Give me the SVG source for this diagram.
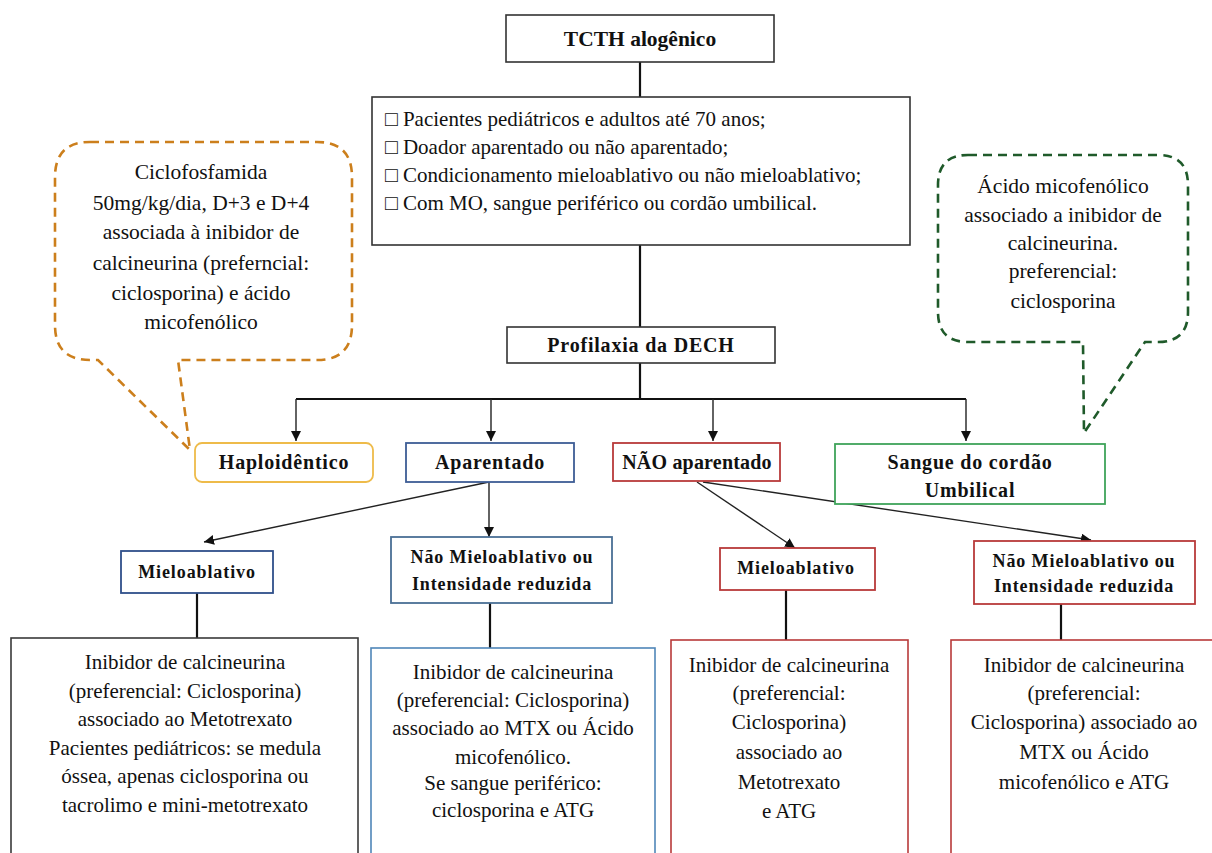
<svg xmlns="http://www.w3.org/2000/svg" width="1212" height="853" viewBox="0 0 1212 853">
  <defs>
    <marker id="arrow" viewBox="0 0 10 10" refX="10" refY="5" markerWidth="10" markerHeight="10" markerUnits="userSpaceOnUse" orient="auto">
      <path d="M0,0 L10,5 L0,10 Z" fill="#111"/>
    </marker>
    <style>
      text { font-family: "Liberation Serif", "Times New Roman", serif; fill: #111; }
      .box { fill: #fff; stroke: #333; stroke-width: 1.6; }
      .b { font-weight: bold; }
      .t20 { font-size: 21px; }
      .t21 { font-size: 21px; }
      .t22 { font-size: 21.5px; }
      .lbl { font-size: 20px; font-weight: bold; letter-spacing: 0.8px; }
      .sm { font-size: 18px; font-weight: bold; letter-spacing: 0.9px; }
      .c { text-anchor: middle; }
      .trunk { stroke: #111; stroke-width: 2.2; fill: none; }
      .thin { stroke: #222; stroke-width: 1.4; fill: none; }
      .callout { fill: #fff; stroke-width: 2.6; stroke-dasharray: 9 6; }
    </style>
  </defs>

  <!-- connectors -->
  <g id="connectors">
    <line class="trunk" x1="640" y1="62" x2="640" y2="97"/>
    <line class="trunk" x1="640" y1="245" x2="640" y2="327"/>
    <line class="trunk" x1="640" y1="363" x2="640" y2="399"/>
    <line class="trunk" x1="296" y1="399" x2="966" y2="399"/>
    <line class="thin" x1="296" y1="399" x2="296" y2="441" marker-end="url(#arrow)"/>
    <line class="thin" x1="491" y1="399" x2="491" y2="441" marker-end="url(#arrow)"/>
    <line class="thin" x1="713" y1="399" x2="713" y2="441" marker-end="url(#arrow)"/>
    <line class="thin" x1="966" y1="399" x2="966" y2="441" marker-end="url(#arrow)"/>
    <line class="thin" x1="489" y1="482" x2="204" y2="542" marker-end="url(#arrow)"/>
    <line class="thin" x1="489" y1="482" x2="489" y2="537" marker-end="url(#arrow)"/>
    <line class="thin" x1="697" y1="482" x2="795" y2="548" marker-end="url(#arrow)"/>
    <line class="thin" x1="703" y1="482" x2="1091" y2="540" marker-end="url(#arrow)"/>
    <line class="trunk" x1="197" y1="593" x2="197" y2="638"/>
    <line class="trunk" x1="490" y1="603" x2="490" y2="648"/>
    <line class="trunk" x1="786" y1="590" x2="786" y2="640"/>
    <line class="trunk" x1="1061" y1="604" x2="1061" y2="640"/>
  </g>

  <!-- speech callouts -->
  <g id="callout-haplo">
    <path class="callout" stroke="#cc7f1c" d="M90,142 H317 Q352,142 352,177 V325 Q352,360 317,360 H178 L190,450 L98,360 H90 Q55,360 55,325 V177 Q55,142 90,142 Z"/>
    <text class="t22 c" x="201" y="179">Ciclofosfamida</text>
    <text class="t22 c" x="201" y="210">50mg/kg/dia, D+3 e D+4</text>
    <text class="t22 c" x="201" y="239">associada à inibidor de</text>
    <text class="t22 c" x="201" y="270">calcineurina (preferncial:</text>
    <text class="t22 c" x="201" y="300">ciclosporina) e ácido</text>
    <text class="t22 c" x="201" y="329">micofenólico</text>
  </g>

  <g id="callout-cordao">
    <path class="callout" stroke="#1f5a2a" d="M968,155 H1158 Q1188,155 1188,185 V312 Q1188,342 1158,342 H1145 L1084,433 L1083,342 H968 Q938,342 938,312 V185 Q938,155 968,155 Z"/>
    <text class="t22 c" x="1063" y="193">Ácido micofenólico</text>
    <text class="t22 c" x="1063" y="222">associado a inibidor de</text>
    <text class="t22 c" x="1063" y="250">calcineurina.</text>
    <text class="t22 c" x="1063" y="278">preferencial:</text>
    <text class="t22 c" x="1063" y="308">ciclosporina</text>
  </g>

  <!-- top of the tree -->
  <g id="tcth">
    <rect class="box" x="506" y="15" width="268" height="47"/>
    <text class="b c" x="640" y="46" font-size="21.5">TCTH alogênico</text>
  </g>

  <g id="criterios">
    <rect class="box" x="372" y="97" width="538" height="148"/>
    <text class="t20" x="385" y="126">□ Pacientes pediátricos e adultos até 70 anos;</text>
    <text class="t20" x="385" y="154">□ Doador aparentado ou não aparentado;</text>
    <text class="t20" x="385" y="182">□ Condicionamento mieloablativo  ou não mieloablativo;</text>
    <text class="t20" x="385" y="210">□ Com MO, sangue periférico ou cordão umbilical.</text>
  </g>

  <g id="profilaxia">
    <rect class="box" x="507" y="327" width="268" height="36"/>
    <text class="lbl c" x="641" y="352">Profilaxia da DECH</text>
  </g>

  <!-- donor types -->
  <g id="haploidentico">
    <rect x="195" y="443" width="178" height="39" rx="7" fill="#fff" stroke="#eebb4a" stroke-width="1.8"/>
    <text class="lbl c" x="284" y="469">Haploidêntico</text>
  </g>

  <g id="aparentado">
    <rect x="406" y="443" width="168" height="39" fill="#fff" stroke="#3d5d95" stroke-width="1.8"/>
    <text class="lbl c" x="490" y="469">Aparentado</text>
  </g>

  <g id="nao-aparentado">
    <rect x="613" y="443" width="167" height="38" fill="#fff" stroke="#b83a3a" stroke-width="1.8"/>
    <text class="b c" x="697" y="469" font-size="20" letter-spacing="0.2">NÃO aparentado</text>
  </g>

  <g id="cordao">
    <rect x="835" y="444" width="270" height="60" fill="#fff" stroke="#3fa35a" stroke-width="1.8"/>
    <text class="lbl c" x="970" y="469">Sangue do cordão</text>
    <text class="lbl c" x="970" y="497">Umbilical</text>
  </g>

  <!-- conditioning -->
  <g id="aparentado-mieloablativo">
    <rect x="121" y="551" width="152" height="42" fill="#fff" stroke="#2f4f8a" stroke-width="1.8"/>
    <text class="sm c" x="197" y="578">Mieloablativo</text>
  </g>

  <g id="aparentado-nao-mieloablativo">
    <rect x="391" y="537" width="221" height="66" fill="#fff" stroke="#4a6f95" stroke-width="1.8"/>
    <text class="sm c" x="502" y="563">Não Mieloablativo ou</text>
    <text class="sm c" x="502" y="590">Intensidade reduzida</text>
  </g>

  <g id="nao-aparentado-mieloablativo">
    <rect x="720" y="548" width="155" height="42" fill="#fff" stroke="#b83a3a" stroke-width="1.8"/>
    <text class="sm c" x="796" y="574">Mieloablativo</text>
  </g>

  <g id="nao-aparentado-nao-mieloablativo">
    <rect x="974" y="541" width="221" height="63" fill="#fff" stroke="#b83a3a" stroke-width="1.8"/>
    <text class="sm c" x="1084" y="567">Não Mieloablativo ou</text>
    <text class="sm c" x="1084" y="592">Intensidade reduzida</text>
  </g>

  <!-- regimens -->
  <g id="regime-1">
    <rect x="11" y="638" width="347" height="240" fill="#fff" stroke="#3a3a3a" stroke-width="1.6"/>
    <text class="t21 c" x="185" y="669">Inibidor de calcineurina</text>
    <text class="t21 c" x="185" y="698">(preferencial:  Ciclosporina)</text>
    <text class="t21 c" x="185" y="726">associado ao  Metotrexato</text>
    <text class="t21 c" x="185" y="755">Pacientes pediátricos:  se medula</text>
    <text class="t21 c" x="185" y="783">óssea, apenas ciclosporina  ou</text>
    <text class="t21 c" x="185" y="812">tacrolimo e mini-metotrexato</text>
  </g>

  <g id="regime-2">
    <rect x="371" y="648" width="284" height="230" fill="#fff" stroke="#4f86b8" stroke-width="1.6"/>
    <text class="t21 c" x="513" y="679">Inibidor de  calcineurina</text>
    <text class="t21 c" x="513" y="707">(preferencial:  Ciclosporina)</text>
    <text class="t21 c" x="513" y="735">associado ao MTX  ou Ácido</text>
    <text class="t21 c" x="513" y="764">micofenólico.</text>
    <text class="t21 c" x="513" y="790">Se sangue periférico:</text>
    <text class="t21 c" x="513" y="817">ciclosporina e ATG</text>
  </g>

  <g id="regime-3">
    <rect x="671" y="640" width="237" height="238" fill="#fff" stroke="#b83a3a" stroke-width="1.6"/>
    <text class="t21 c" x="789" y="672">Inibidor de calcineurina</text>
    <text class="t21 c" x="789" y="700">(preferencial:</text>
    <text class="t21 c" x="789" y="729">Ciclosporina)</text>
    <text class="t21 c" x="789" y="759">associado ao</text>
    <text class="t21 c" x="789" y="789">Metotrexato</text>
    <text class="t21 c" x="789" y="818">e ATG</text>
  </g>

  <g id="regime-4">
    <rect x="951" y="640" width="280" height="238" fill="#fff" stroke="#b83a3a" stroke-width="1.6"/>
    <text class="t21 c" x="1084" y="672">Inibidor de  calcineurina</text>
    <text class="t21 c" x="1084" y="700">(preferencial:</text>
    <text class="t21 c" x="1084" y="729">Ciclosporina) associado ao</text>
    <text class="t21 c" x="1084" y="759">MTX ou Ácido</text>
    <text class="t21 c" x="1084" y="789">micofenólico e ATG</text>
  </g>
</svg>
